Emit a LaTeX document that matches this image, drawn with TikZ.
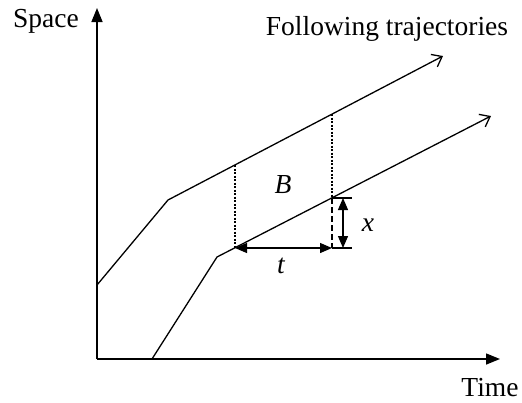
\documentclass[tikz,border=0pt]{standalone}
\usepackage{fontspec}
\setmainfont{Liberation Serif}
\usetikzlibrary{arrows.meta}
\begin{document}
\begin{tikzpicture}[x=1pt,y=-1pt,
  axis/.style={line width=1.5pt,-{Triangle[length=14pt,width=11pt]}},
  traj/.style={line width=1.3pt,line join=miter,-{Straight Barb[length=9pt,width=14pt,line width=1.3pt]}},
  dim/.style={line width=1.3pt,{Triangle[length=12pt,width=10pt]}-{Triangle[length=12pt,width=10pt]}},
  guide/.style={line width=1.1pt,dash pattern=on 2pt off 1.5pt},
  lbl/.style={font=\fontsize{27.5}{30}\selectfont,inner sep=0pt},
  ilbl/.style={font=\fontsize{27.5}{30}\selectfont\itshape,inner sep=0pt}]
\useasboundingbox (0,0) rectangle (522,402);
% axes
\coordinate (O) at (97,359);
\coordinate (Ytip) at (97,8);
\coordinate (Xtip) at (500,359);
\draw[axis] (O) -- (Ytip);
\draw[axis] (O) -- (Xtip);
% trajectories
\coordinate (a0) at (97,285);
\coordinate (a1) at (168,200);
\coordinate (aB) at (235,165);
\coordinate (aC) at (332,114);
\coordinate (a2) at (443,56);
\draw[traj] (a0) -- (a1) -- (a2);
\coordinate (b0) at (152,359);
\coordinate (b1) at (217,257);
\coordinate (bB) at (235,248);
\coordinate (bC) at (332,198);
\coordinate (b2) at (491,116);
\draw[traj] (b0) -- (b1) -- (b2);
% guides
\draw[guide] (aB) -- (bB);
\draw[guide] (aC) -- (bC);
\coordinate (bD) at (332,248);
\draw[line width=1.1pt,dash pattern=on 6pt off 3pt] (bC) -- (bD);
% t arrow
\draw[dim] (bB) -- (bD);
% x arrow
\coordinate (xt1) at (352,198);
\coordinate (xt2) at (352,248);
\draw[line width=1.1pt] (bC) -- (xt1);
\draw[line width=1.1pt] (bD) -- (xt2);
\coordinate (xa) at (343,198);
\coordinate (xb) at (343,248);
\draw[dim] (xa) -- (xb);
% labels
\node[lbl] (space) at (46,21) {Space};
\node[lbl] (follow) at (387,29) {Following trajectories};
\node[lbl] (time) at (490,388) {Time};
\node[ilbl] (B) at (283,185) {B};
\node[ilbl] (xl) at (368,225) {x};
\node[ilbl] (tl) at (281,266) {t};
\end{tikzpicture}
\end{document}
